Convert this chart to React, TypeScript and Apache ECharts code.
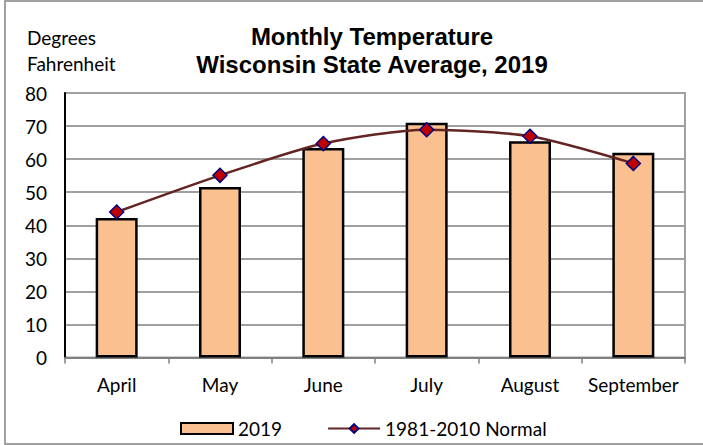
import React, { useEffect, useRef } from "react";
import * as echarts from "echarts";

const months = ["April", "May", "June", "July", "August", "September"];
const temps2019 = [42.2, 51.6, 63.4, 71.0, 65.4, 61.9];
const normals = [44.0, 55.1, 64.7, 68.9, 66.9, 58.7];
const titleLines = ["Monthly Temperature", "Wisconsin State Average, 2019"];
const unitLines = ["Degrees", "Fahrenheit"];

const FONT = "Lato, 'Open Sans', sans-serif";
const TITLE_FONT = "bold 24px 'Liberation Sans', Arial, sans-serif";

export default function App() {
  const ref = useRef<HTMLDivElement>(null);
  useEffect(() => {
    document.body.style.margin = "0";
    if (!ref.current) return;
    const chart = echarts.init(ref.current, null, { renderer: "svg" });
    chart.setOption({
      animation: false,
      backgroundColor: "#ffffff",
      grid: {
        left: 65,
        right: 18,
        top: 93,
        bottom: 87.5,
        show: true,
        borderColor: "#A0A0A0",
        borderWidth: 2,
        backgroundColor: "transparent",
      },
      xAxis: {
        type: "category",
        data: months,
        axisLine: { lineStyle: { color: "#808080", width: 2 } },
        axisTick: { show: true, length: 6, lineStyle: { color: "#808080", width: 1.5 } },
        axisLabel: { color: "#000", fontFamily: FONT, fontSize: 19, margin: 17, interval: 0 },
      },
      yAxis: {
        type: "value",
        min: 0,
        max: 80,
        interval: 10,
        axisLine: { show: true, lineStyle: { color: "#000", width: 2 } },
        axisTick: { show: false },
        splitLine: { lineStyle: { color: "#A0A0A0", width: 2 } },
        axisLabel: { color: "#000", fontFamily: FONT, fontSize: 19, margin: 18 },
      },
      legend: {
        left: 175,
        top: 414,
        itemWidth: 52,
        itemHeight: 11,
        itemGap: 45,
        textStyle: { fontFamily: FONT, fontSize: 19, color: "#000" },
        data: [{ name: "2019", icon: "rect" }, { name: "1981-2010 Normal" }],
      },
      graphic: [
        {
          type: "rect",
          shape: { x: 5, y: 1, width: 700, height: 443 },
          style: { fill: "none", stroke: "#A0A0A0", lineWidth: 2 },
          silent: true,
        },
        {
          type: "text",
          x: 372,
          y: 36,
          style: {
            text: titleLines[0],
            font: TITLE_FONT,
            fill: "#000",
            align: "center",
            verticalAlign: "middle",
          },
        },
        {
          type: "text",
          x: 372,
          y: 64,
          style: {
            text: titleLines[1],
            font: TITLE_FONT,
            fill: "#000",
            align: "center",
            verticalAlign: "middle",
          },
        },
        {
          type: "text",
          x: 27,
          y: 37,
          style: {
            text: unitLines[0],
            font: "19px " + FONT,
            fill: "#000",
            align: "left",
            verticalAlign: "middle",
          },
        },
        {
          type: "text",
          x: 27,
          y: 63,
          style: {
            text: unitLines[1],
            font: "19px " + FONT,
            fill: "#000",
            align: "left",
            verticalAlign: "middle",
          },
        },
      ],
      series: [
        {
          name: "2019",
          type: "bar",
          data: temps2019,
          barWidth: 42,
          itemStyle: { color: "#FAC090", borderColor: "#000", borderWidth: 2.5 },
        },
        {
          name: "1981-2010 Normal",
          type: "line",
          data: normals,
          smooth: 0.25,
          symbol: "diamond",
          symbolSize: 14,
          lineStyle: { color: "#632523", width: 2.5 },
          itemStyle: { color: "#C00000", borderColor: "#000080", borderWidth: 1.5 },
          z: 3,
        },
      ],
    });
    return () => chart.dispose();
  }, []);
  return <div ref={ref} style={{ width: 703, height: 445 }} />;
}
